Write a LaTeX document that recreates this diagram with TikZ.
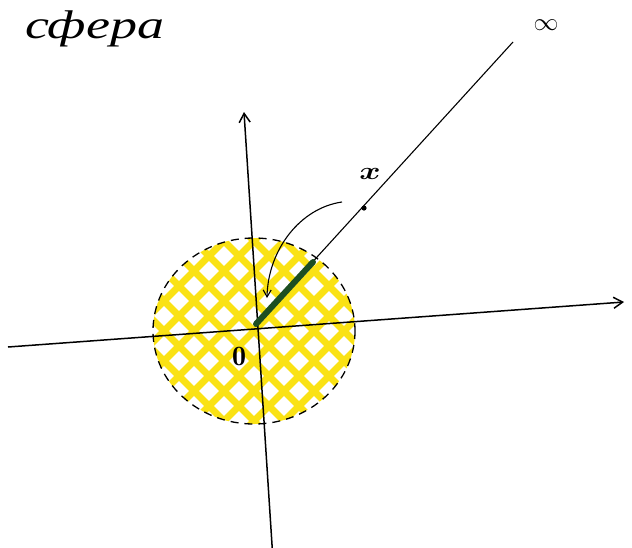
\documentclass[tikz,border=0pt]{standalone}
\usepackage{amsmath}
\usepackage{fontspec}
\newfontfamily\cyr{Liberation Serif}
\usetikzlibrary{arrows.meta,calc}
\definecolor{hatchyellow}{RGB}{250,226,20}
\definecolor{segGreen}{RGB}{28,78,34}
\begin{document}
\begin{tikzpicture}[x=1pt,y=-1pt,
  axis/.style={line width=1.5pt,-{Straight Barb[length=9pt,width=11pt,line width=1.5pt]}},
  hatch/.style={hatchyellow,line width=7pt},
  rim/.style={black,line width=1.3pt,dash pattern=on 8pt off 6pt},
  ray/.style={line width=1.1pt},
  lab/.style={inner sep=0pt}]
\clip (0,0) rectangle (632,547);
% key points
\coordinate (O) at (256,324);
\coordinate (C) at (254,331);
\coordinate (xl) at (8,347);
\coordinate (xr) at (624,302);
\coordinate (yb) at (273,560);
\coordinate (yt) at (244,112);
\coordinate (rayend) at (513,42);
\coordinate (G) at (313,262);
\coordinate (P) at (364,208);
\coordinate (arrs) at (342,202);
\coordinate (arre) at (267,298);
% hatched disk
\begin{scope}
  \clip (C) ellipse [x radius=101, y radius=93];
  \foreach \k in {-330,-300,...,330} {
    \draw[hatch] ({254+\k-160},{331+160}) -- ({254+\k+160},{331-160});
    \draw[hatch] ({254+\k-160},{331-160}) -- ({254+\k+160},{331+160});
  }
\end{scope}
\draw[rim] (C) ellipse [x radius=101, y radius=93];
% axes
\draw[axis] (xl) -- (xr);
\draw[axis] (yb) -- (yt);
% ray to infinity
\draw[ray] (O) -- (rayend);
\draw[segGreen,line width=6pt,line cap=round] (O) -- (G);
\fill (P) circle (2.6);
% curved arrow
\draw[line width=1.1pt,-{Straight Barb[length=7pt,width=8pt,line width=1.1pt]}] (arrs) .. controls (300,208) and (268,250) .. (arre);
% labels
\node[lab,anchor=base west,xscale=1.35] (title) at (25,38) {\fontsize{40}{40}\selectfont\cyr\itshape сфера};
\node[lab] (inf) at (546,25) {\fontsize{32}{32}\selectfont$\infty$};
\node[lab,xscale=1.3] (xlab) at (370,174) {\fontsize{36}{36}\selectfont$\boldsymbol{x}$};
\node[lab] (zero) at (239,356) {\fontsize{28}{28}\selectfont$\mathbf{0}$};
\end{tikzpicture}
\end{document}
